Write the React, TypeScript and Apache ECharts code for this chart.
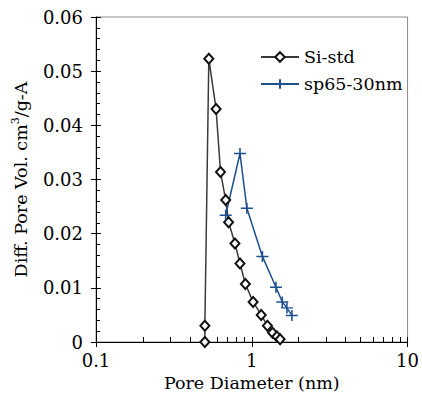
import React, { useEffect, useRef } from "react";
import * as echarts from "echarts";

const siStd: [number, number][] = [
  [0.5, 0], [0.5, 0.003], [0.53, 0.0523], [0.59, 0.043], [0.63, 0.0314],
  [0.68, 0.0262], [0.71, 0.0221], [0.78, 0.0182], [0.84, 0.0145],
  [0.91, 0.0107], [1.02, 0.0074], [1.15, 0.005], [1.26, 0.003],
  [1.36, 0.0017], [1.45, 0.001], [1.52, 0.0005],
];
const sp65: [number, number][] = [
  [0.68, 0.0234], [0.84, 0.0348], [0.93, 0.0247], [1.17, 0.0158],
  [1.43, 0.0101], [1.57, 0.0074], [1.68, 0.0063], [1.81, 0.0049],
];
const seriesNames = ["Si-std", "sp65-30nm"];
const xMajor = [0.1, 1, 10];
const xMinorMultipliers = [2, 3, 4, 5, 6, 7, 8, 9];
const yMin = 0, yMax = 0.06, yStep = 0.01;

const FONT = "DejaVu Serif";
const FS = 18;
const TS = 17.5;
const BLUE = "#1d4f8f";
const GREY = "#3a3a3a";

export default function App() {
  const ref = useRef<HTMLDivElement>(null);
  useEffect(() => {
    if (!ref.current) return;
    const chart = echarts.init(ref.current, null, { renderer: "svg" });
    const tickLogs: number[] = [];
    xMajor.forEach((m, i) => {
      tickLogs.push(Math.log10(m));
      if (i < xMajor.length - 1) xMinorMultipliers.forEach((k) => tickLogs.push(Math.log10(m * k)));
    });
    const plus = "path://M0,-5L0,5M-6,0L6,0";
    chart.setOption({
      animation: false,
      textStyle: { fontFamily: FONT },
      grid: { left: 96, top: 17, right: 10, bottom: 55, show: true, borderColor: "#8a8a8a", borderWidth: 1 },
      legend: {
        orient: "vertical",
        left: 255,
        top: 42,
        itemWidth: 38,
        itemHeight: 12,
        itemGap: 7,
        textStyle: { fontFamily: FONT, fontSize: TS, color: "#000", lineHeight: 20 },
        data: seriesNames,
      },
      xAxis: [
        {
          type: "log",
          logBase: 10,
          min: xMajor[0],
          max: xMajor[xMajor.length - 1],
          name: "Pore Diameter (nm)",
          nameLocation: "middle",
          nameGap: 31,
          nameTextStyle: { fontFamily: FONT, fontSize: TS, color: "#000" },
          axisLine: { onZero: false, lineStyle: { color: "#000", width: 1 } },
          axisTick: { show: true, length: 5, lineStyle: { color: "#000" } },
          axisLabel: { fontFamily: FONT, fontSize: FS, color: "#000", margin: 9 },
          splitLine: { show: false },
        },
        {
          type: "value",
          min: Math.log10(xMajor[0]),
          max: Math.log10(xMajor[xMajor.length - 1]),
          position: "bottom",
          axisLine: { show: false, onZero: false },
          axisLabel: { show: false },
          axisTick: { show: true, inside: true, length: 5, customValues: tickLogs, lineStyle: { color: "#000" } },
          splitLine: { show: false },
        },
      ],
      yAxis: [
        {
          type: "value",
          min: yMin,
          max: yMax,
          interval: yStep,
          position: "left",
          name: "Diff. Pore Vol. cm{sup|3}/g-A",
          nameLocation: "middle",
          nameGap: 54,
          nameTextStyle: {
            fontFamily: FONT, fontSize: TS, color: "#000", lineHeight: 22,
            rich: { sup: { fontFamily: FONT, fontSize: 11, color: "#000", verticalAlign: "top", lineHeight: 12 } },
          },
          axisLine: { onZero: false, lineStyle: { color: "#000", width: 1 } },
          axisTick: { show: true, length: 5, lineStyle: { color: "#000" } },
          axisLabel: { fontFamily: FONT, fontSize: FS, color: "#000", margin: 13 },
          splitLine: { show: false },
        },
        {
          type: "value",
          min: yMin,
          max: yMax,
          interval: yStep,
          position: "left",
          axisLine: { show: false, onZero: false },
          axisLabel: { show: false },
          axisTick: { show: true, inside: true, length: 5, lineStyle: { color: "#000" } },
          minorTick: { show: true, splitNumber: 5, length: 4, lineStyle: { color: "#000" } },
          splitLine: { show: false },
          minorSplitLine: { show: false },
        },
      ],
      series: [
        {
          name: seriesNames[0],
          type: "line",
          data: siStd,
          symbol: "emptyDiamond",
          symbolSize: [9, 10],
          lineStyle: { color: GREY, width: 1.5 },
          itemStyle: { color: "#111", borderWidth: 1 },
        },
        {
          name: seriesNames[1],
          type: "line",
          data: sp65,
          symbol: plus,
          symbolSize: [12, 11],
          lineStyle: { color: BLUE, width: 1.5 },
          itemStyle: { color: BLUE, borderColor: BLUE, borderWidth: 1.5 },
        },
      ],
    });
    return () => chart.dispose();
  }, []);
  return (
    <div
      ref={ref}
      style={{ position: "fixed", left: 0, top: 0, width: 422, height: 397, background: "#fff" }}
    />
  );
}
